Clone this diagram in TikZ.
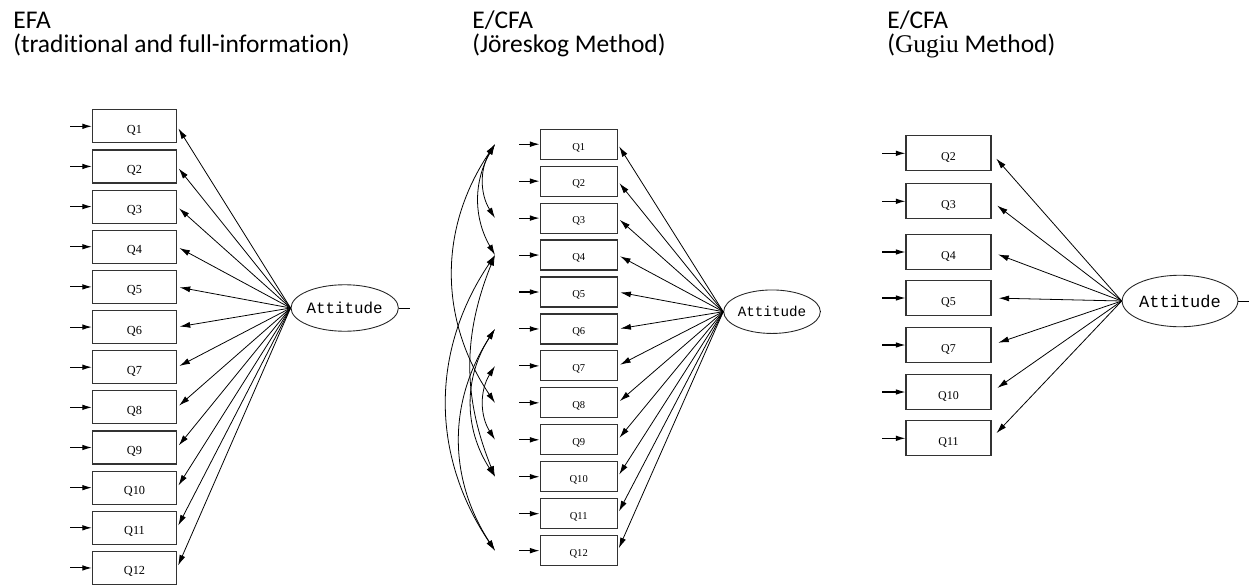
\documentclass[tikz,border=0pt]{standalone}
\usepackage{fontspec}
\usepackage{tikz}
\usetikzlibrary{shapes.geometric,arrows.meta}
\setmainfont{Carlito}[Ligatures=NoCommon]
\newfontfamily\qfont{Liberation Serif}
\newfontfamily\attfont{Liberation Mono}
\newfontfamily\namefont{Liberation Serif}

\begin{document}
\begin{tikzpicture}[x=0.2mm,y=-0.2mm,
    item/.style={draw=black!80, line width=0.65pt, inner sep=0pt, text depth=0pt},
    factor/.style={ellipse, draw=black!85, line width=0.5pt, inner sep=0pt},
    load/.style={-{Latex[length=6pt,width=3.4pt]}, line width=0.45pt, shorten >=1.5pt},
    resid/.style={-{Latex[length=5.5pt,width=3.2pt]}, line width=0.6pt},
    corr/.style={{Latex[length=6pt,width=3.4pt]}-{Latex[length=6pt,width=3.4pt]}, line width=0.45pt},
    title/.style={anchor=base west, inner sep=0pt, font=\fontsize{14.5}{16}\selectfont}]

    \useasboundingbox (0,0) rectangle (1249,584);

    % titles
    \node[title] (efa1) at (13,29) {EFA};
    \node[title] (efa2) at (13,53) {(traditional and full-information)};
    \node[title] (jor1) at (472,29) {E/CFA};
    \node[title] (jor2) at (472,53) {(Jöreskog Method)};
    \node[title] (gug1) at (887,29) {E/CFA};
    \node[title] (gug2) at (887,53) {({\namefont Gugiu} Method)};

    % EFA: one factor, all twelve items
    \node[factor, minimum width=16.8mm, minimum height=9.3mm,
          font=\attfont\fontsize{9}{10}\selectfont] (fa) at (344.7,308) {Attitude};
    \coordinate (faout) at (410,308);
    \draw[line width=0.5pt] (fa.east) -- (faout);
    \foreach \i in {1,...,12} {
        \node[item, minimum width=16.8mm, minimum height=6.6mm, text height=8pt,
              font=\qfont\fontsize{7}{7}\selectfont] (a\i) at (134.5,{126.3+(\i-1)*40.15}) {Q\i};
        \coordinate (ae\i) at (70,{126.3+(\i-1)*40.15});
        \draw[resid] (ae\i) -- (a\i.west);
        \draw[load] (fa.west) -- (a\i.east);
    }

    % Joreskog: twelve items with correlated residuals
    \node[factor, minimum width=15.1mm, minimum height=8.7mm,
          font=\attfont\fontsize{8.1}{9}\selectfont] (fb) at (772,311.7) {Attitude};
    \coordinate (fbout) at (820,311.7);
    \draw[line width=0.5pt] (fb.east) -- (fbout);
    \foreach \i in {1,...,12} {
        \node[item, minimum width=15.4mm, minimum height=6mm, text height=6.6pt,
              font=\qfont\fontsize{6}{6.5}\selectfont] (b\i) at (578.7,{144.2+(\i-1)*36.95}) {Q\i};
        \coordinate (bs\i) at (519,{144.2+(\i-1)*36.95});
        \coordinate (be\i) at (495,{144.2+(\i-1)*36.95});
        \draw[resid] (bs\i) -- (b\i.west);
        \draw[load] (fb.west) -- (b\i.east);
    }
    \foreach \p/\q/\b in {1/3/32, 1/4/30, 1/8/34, 4/10/22, 4/12/34, 6/10/33, 6/12/33, 7/9/32}
        \draw[corr] (be\p) to[bend right=\b] (be\q);

    % Gugiu: reduced item set
    \node[factor, minimum width=18.7mm, minimum height=10.3mm,
          font=\attfont\fontsize{9.7}{11}\selectfont] (fc) at (1180,301) {Attitude};
    \coordinate (fcout) at (1249,301);
    \draw[line width=0.5pt] (fc.east) -- (fcout);
    \foreach \q/\y in {2/153.3, 3/201.3, 4/252, 5/298, 7/345, 10/392, 11/438.3} {
        \node[item, minimum width=17mm, minimum height=7mm, text height=8.6pt,
              font=\qfont\fontsize{6.8}{7}\selectfont] (c\q) at (948.5,\y) {Q\q};
        \coordinate (cs\q) at (882,\y);
        \draw[resid] (cs\q) -- (c\q.west);
        \draw[load, shorten >=4pt] (fc.west) -- (c\q.east);
    }
\end{tikzpicture}
\end{document}
